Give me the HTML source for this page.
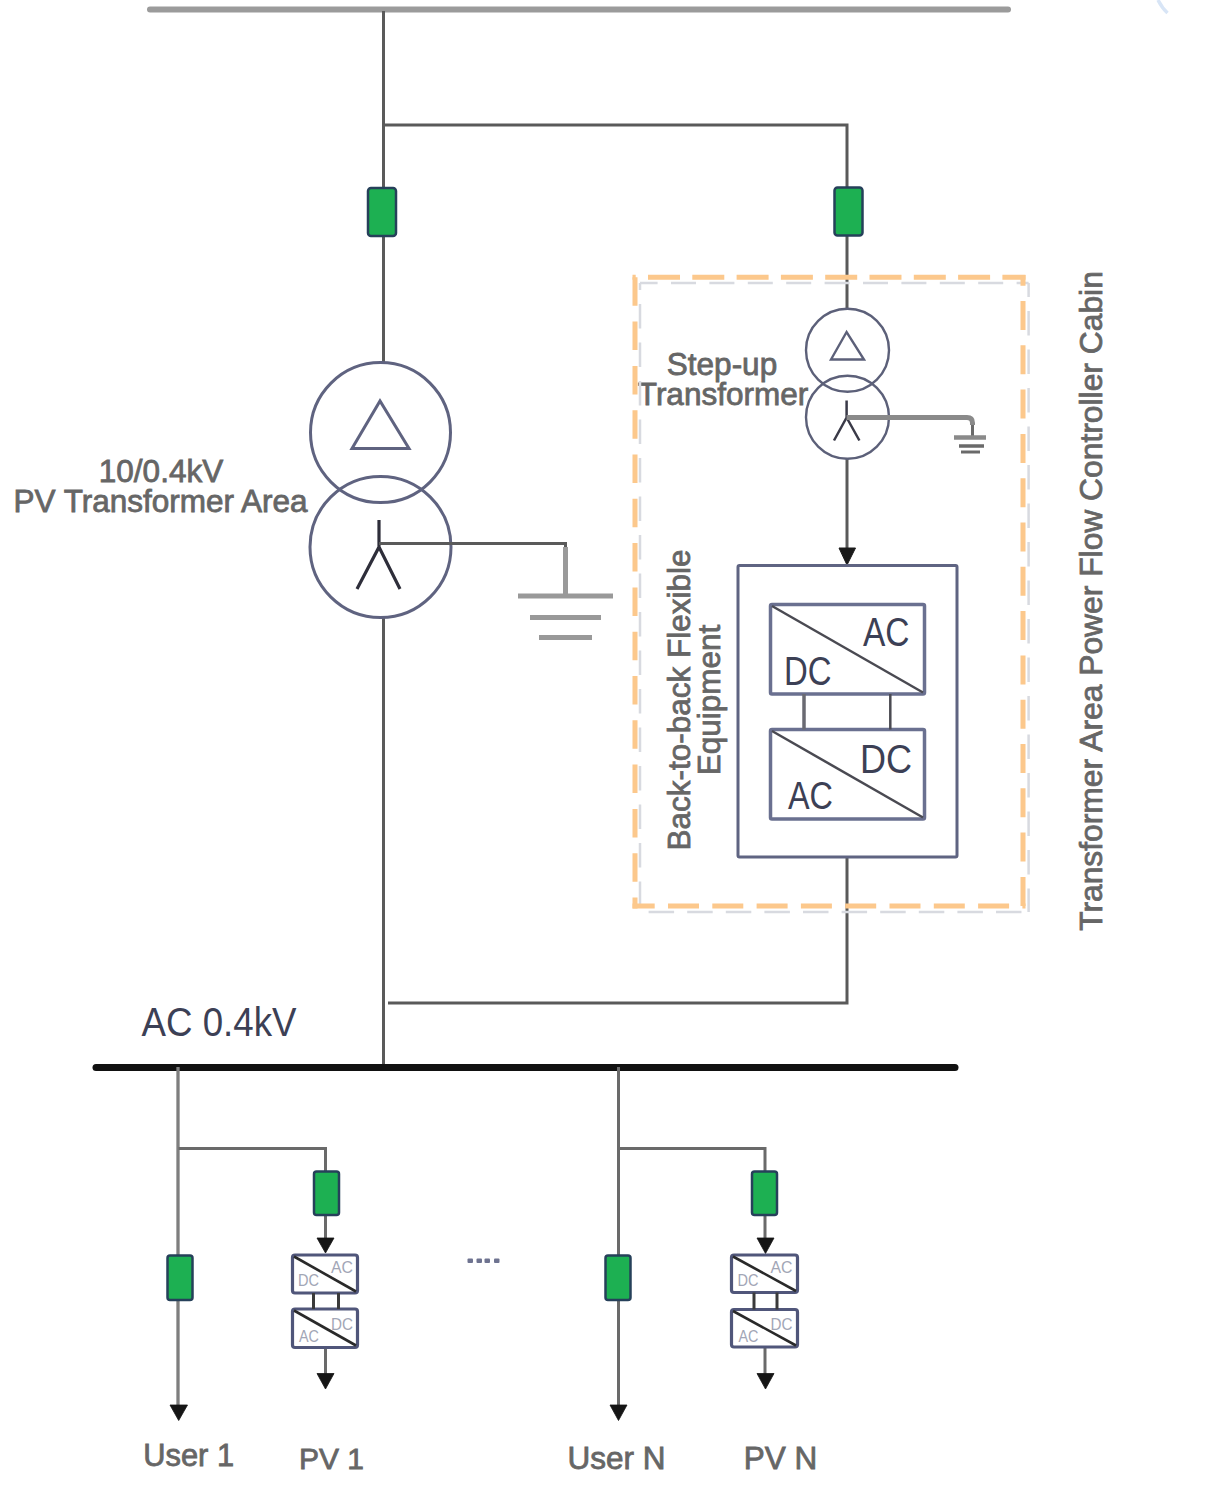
<!DOCTYPE html>
<html><head><meta charset="utf-8">
<style>
html,body{margin:0;padding:0;background:#fff;width:1225px;height:1493px;overflow:hidden}
svg{position:absolute;left:0;top:0;display:block}
text{font-family:"Liberation Sans",sans-serif}
</style></head>
<body>
<svg width="1225" height="1493" viewBox="0 0 1225 1493">
<rect width="1225" height="1493" fill="#fff"/>
<path d="M1158 0Q1162 8 1167.5 13" stroke="#d8e5f6" stroke-width="3.5" fill="none"/>
<!-- top bus -->
<line x1="150" y1="9.5" x2="1008" y2="9.5" stroke="#9b9b9b" stroke-width="6" stroke-linecap="round"/>
<!-- main lines -->
<g fill="none" stroke="#5a5a5a" stroke-width="3">
<path d="M383.5 11V363"/>
<path d="M383.5 125H847V309"/>
<path d="M383.5 617V1067"/>
<path d="M847 459V550"/>
<path d="M847 857V1003H388"/>
</g>
<!-- breakers -->
<g fill="#1db052" stroke="#26405a" stroke-width="2.5">
<rect x="368" y="188" width="28" height="48" rx="3"/>
<rect x="834.5" y="187.5" width="28" height="48" rx="3"/>
</g>

<!-- return line & AC bus -->
<line x1="96" y1="1067.5" x2="955" y2="1067.5" stroke="#111" stroke-width="7" stroke-linecap="round"/>
<!-- branches -->
<g fill="none" stroke="#6a6a6a" stroke-width="3">
<path d="M178 1067V1405" stroke="#7e7e7e" stroke-width="3.3"/>
<path d="M178.5 1148.5H325.5V1238"/>
<path d="M325.5 1347.5V1374"/>
<path d="M618.5 1067V1405"/>
<path d="M618.5 1148.5H765V1238"/>
<path d="M765 1347.5V1374"/>
</g>
<g fill="#1db052" stroke="#26405a" stroke-width="2.5">
<rect x="314" y="1171.5" width="25" height="43.5" rx="2.5"/>
<rect x="167.5" y="1255.5" width="25" height="44.5" rx="2.5"/>
<rect x="752" y="1171.5" width="25" height="43.5" rx="2.5"/>
<rect x="605.5" y="1255.5" width="25" height="44.5" rx="2.5"/>
</g>
<g fill="#151515" stroke="#151515" stroke-width="0.8" stroke-linejoin="round">
<path d="M317 1238H334L325.5 1253Z"/>
<path d="M317 1373.5H334L325.5 1389Z"/>
<path d="M170 1405H187.5L178.7 1420.5Z"/>
<path d="M757 1238H774L765.5 1253.5Z"/>
<path d="M757 1373.5H774L765.5 1389Z"/>
<path d="M610 1405H627L618.5 1420.5Z"/>
</g>
<g fill="none" stroke="#50567a" stroke-width="3.2">
<rect x="292.5" y="1255" width="65" height="38" rx="2.5"/>
<rect x="292.5" y="1309" width="65" height="38.5" rx="2.5"/>
<rect x="731.5" y="1255" width="66" height="37.5" rx="2.5"/>
<rect x="731.5" y="1309.5" width="66" height="37.5" rx="2.5"/>
</g>
<g stroke="#2a2a2a" stroke-width="2.6">
<line x1="294" y1="1256.5" x2="356" y2="1291.5"/>
<line x1="294" y1="1310.5" x2="356" y2="1345.5"/>
<line x1="733" y1="1256.5" x2="796" y2="1291"/>
<line x1="733" y1="1311" x2="796" y2="1345.5"/>
</g>
<g stroke="#3a3a3a" stroke-width="3">
<line x1="313.5" y1="1293" x2="313.5" y2="1309"/>
<line x1="338.5" y1="1293" x2="338.5" y2="1309"/>
<line x1="754" y1="1292.5" x2="754" y2="1309.5"/>
<line x1="777" y1="1292.5" x2="777" y2="1309.5"/>
</g>

<g fill="#a2a6b6" font-size="16.5">
<text x="331" y="1273.2" textLength="22" lengthAdjust="spacingAndGlyphs">AC</text>
<text x="298" y="1285.8" textLength="21" lengthAdjust="spacingAndGlyphs">DC</text>
<text x="331" y="1329.8" textLength="22" lengthAdjust="spacingAndGlyphs">DC</text>
<text x="299" y="1342.4" textLength="20" lengthAdjust="spacingAndGlyphs">AC</text>
<text x="770.5" y="1273.2" textLength="22" lengthAdjust="spacingAndGlyphs">AC</text>
<text x="737.5" y="1285.8" textLength="21" lengthAdjust="spacingAndGlyphs">DC</text>
<text x="770.5" y="1329.8" textLength="22" lengthAdjust="spacingAndGlyphs">DC</text>
<text x="738.5" y="1342.4" textLength="20" lengthAdjust="spacingAndGlyphs">AC</text>
</g>
<g fill="#6e7390">
<rect x="467.5" y="1258.5" width="5.5" height="4.5" rx="1"/>
<rect x="476.5" y="1258.5" width="5.5" height="4.5" rx="1"/>
<rect x="484.5" y="1258.5" width="5.5" height="4.5" rx="1"/>
<rect x="494" y="1258.5" width="5.5" height="4.5" rx="1"/>
</g>
<!-- texts -->
<g fill="#666" stroke="#666" stroke-width="0.8" font-size="31.5">
<text x="161" y="482" text-anchor="middle">10/0.4kV</text>
<text x="160.5" y="511.5" text-anchor="middle">PV Transformer Area</text>
<text x="722" y="375" text-anchor="middle">Step-up</text>
<text x="723" y="404.5" text-anchor="middle">Transformer</text>
<text transform="translate(689.5 700) rotate(-90)" text-anchor="middle">Back-to-back Flexible</text>
<text transform="translate(719.5 700) rotate(-90)" text-anchor="middle">Equipment</text>
<text transform="translate(1102 601) rotate(-90)" text-anchor="middle" font-size="31.8">Transformer Area Power Flow Controller Cabin</text>
<text x="143.3" y="1466" font-size="30.8">User 1</text>
<text x="299" y="1469" font-size="30">PV 1</text>
<text x="567.4" y="1469">User N</text>
<text x="743.7" y="1469">PV N</text>
</g>
<g fill="#3c4055">
<text x="141.5" y="1036" font-size="40" textLength="155" lengthAdjust="spacingAndGlyphs">AC 0.4kV</text>
<text x="863" y="646" font-size="40" textLength="46.5" lengthAdjust="spacingAndGlyphs">AC</text>
<text x="784" y="684.7" font-size="40" textLength="47.5" lengthAdjust="spacingAndGlyphs">DC</text>
<text x="860" y="772.8" font-size="40" textLength="52" lengthAdjust="spacingAndGlyphs">DC</text>
<text x="788" y="808.5" font-size="38" textLength="45" lengthAdjust="spacingAndGlyphs">AC</text>
</g>
<!-- big transformer -->
<g fill="none" stroke="#5f6380" stroke-width="3">
<circle cx="380.5" cy="432.6" r="70"/>
<circle cx="380.5" cy="547" r="70.5"/>
<path d="M352 448.5L380 401L409 448.5Z" stroke-linejoin="miter"/>
</g>
<g fill="none" stroke="#2e2e3a" stroke-width="3.2">
<path d="M379 520V547L357 589M379 547L400 589"/>
</g>
<path d="M379 543.5H565.5V596" fill="none" stroke="#5a5a5a" stroke-width="3"/>
<path d="M565.5 547V596" fill="none" stroke="#9a9a9a" stroke-width="5"/>
<g stroke="#999" stroke-width="5">
<line x1="518" y1="596" x2="613" y2="596"/>
<line x1="530" y1="617.5" x2="601" y2="617.5"/>
<line x1="539" y1="637.5" x2="592" y2="637.5"/>
</g>

<!-- dashed cabin box -->
<g fill="none" stroke="#d8dae0" stroke-width="2.5">
<line x1="640" y1="283" x2="1028.6" y2="283" stroke-dasharray="25 13.4" stroke-dashoffset="7.4"/>
<line x1="1028.6" y1="283" x2="1028.6" y2="912" stroke-dasharray="24.5 14" stroke-dashoffset="10.4"/>
<line x1="640" y1="912" x2="1028.6" y2="912" stroke-dasharray="25.5 13.1" stroke-dashoffset="30"/>
<line x1="640" y1="283" x2="640" y2="912" stroke-dasharray="24.5 14" stroke-dashoffset="17.5"/>
</g>
<g fill="none" stroke="#fcc88c" stroke-width="5" stroke-linecap="butt">
<line x1="632.5" y1="277.3" x2="1025.5" y2="277.3" stroke-dasharray="32 12.3" stroke-dashoffset="28.8"/>
<line x1="1023" y1="275" x2="1023" y2="908.5" stroke-dasharray="29 15.3" stroke-dashoffset="18.3"/>
<line x1="632.5" y1="906" x2="1025.5" y2="906" stroke-dasharray="31 13.3" stroke-dashoffset="8.8"/>
<line x1="635" y1="275" x2="635" y2="908.5" stroke-dasharray="28.5 15.8" stroke-dashoffset="-2.3"/>
</g>
<!-- small transformer -->
<g fill="none" stroke="#5c6079" stroke-width="2.4">
<circle cx="847.5" cy="350.3" r="41.5"/>
<circle cx="847.5" cy="417.2" r="41.5"/>
<path d="M831 359.5L846.6 332L864 359.5Z"/>
</g>
<g fill="none" stroke="#3a3a48" stroke-width="2.5">
<path d="M846.6 400.5V417.5L834 440.5M846.6 417.5L859.4 440.5"/>
</g>
<path d="M972.5 423V437" fill="none" stroke="#6a6a6a" stroke-width="3"/>
<path d="M846.6 417.6H967Q972.5 417.6 972.5 423V425" fill="none" stroke="#8a8a8a" stroke-width="5"/>
<g stroke="#8a8a8a">
<line x1="954" y1="437.5" x2="986" y2="437.5" stroke-width="4.5"/>
<line x1="959" y1="446" x2="984" y2="446" stroke-width="3.5" stroke="#6a6a6a"/>
<line x1="961" y1="452" x2="980" y2="452" stroke-width="3" stroke="#6a6a6a"/>
</g>
<!-- arrow into converter -->
<path d="M839 548L855.5 548L847 565Z" fill="#1a1a1a" stroke="#1a1a1a" stroke-width="1" stroke-linejoin="round"/>
<!-- converter -->
<rect x="738" y="565.5" width="219" height="291.5" fill="none" stroke="#5f6482" stroke-width="3" rx="1.5"/>
<g fill="none" stroke="#6a7090" stroke-width="3.5">
<rect x="770.5" y="604.5" width="154" height="89.5" rx="1.5"/>
<rect x="770.5" y="729.5" width="154" height="89.5" rx="1.5"/>
</g>
<g stroke="#4a4a52" stroke-width="2.5">
<line x1="772" y1="606" x2="923" y2="692.5"/>
<line x1="772" y1="731" x2="923" y2="817.5"/>
<line x1="804" y1="694" x2="804" y2="729.5" stroke="#6a6a72" stroke-width="3.5"/>
<line x1="890.3" y1="694" x2="890.3" y2="729.5"/>
</g>
</svg>
</body></html>
